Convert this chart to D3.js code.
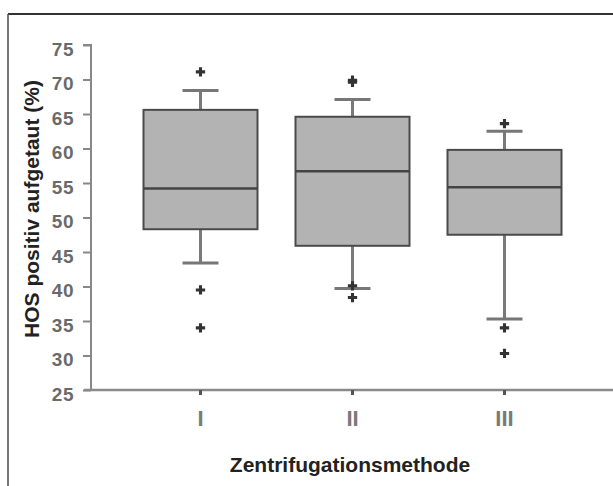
<!DOCTYPE html>
<html><head><meta charset="utf-8">
<script src="https://cdn.jsdelivr.net/npm/d3@7"></script>
<style>body{margin:0;background:#fff}svg{display:block}</style>
</head><body>
<script>
const categories = ["I", "II", "III"];
const q1 = [48.3, 45.9, 47.5];
const medians = [54.2, 56.7, 54.4];
const q3 = [65.6, 64.6, 59.8];
const whiskerLow = [43.4, 39.7, 35.3];
const whiskerHigh = [68.4, 67.1, 62.5];
const outliers = [[71.1, 39.5, 34.0], [69.9, 69.6, 40.1, 38.4], [63.6, 34.0, 30.3]];
const yTicks = [25, 30, 35, 40, 45, 50, 55, 60, 65, 70, 75];

const W = 613, H = 486;
const svg = d3.select("body").append("svg").attr("width", W).attr("height", H)
  .style("font-family", "'Liberation Sans', Arial, sans-serif");

// frame (top and left)
svg.append("line").attr("x1", 8).attr("x2", W).attr("y1", 14).attr("y2", 14).attr("stroke", "#333").attr("stroke-width", 2);
svg.append("line").attr("x1", 8).attr("x2", 8).attr("y1", 14).attr("y2", H).attr("stroke", "#555").attr("stroke-width", 1.6);

const y = d3.scaleLinear().domain([25, 75]).range([390, 45]);
const x = d3.scaleBand().domain(categories).range([124.5, 580.5]).paddingInner(0.25).paddingOuter(0.125);
const axisX = 91;

// y axis
const yAxis = svg.append("g").attr("transform", `translate(${axisX},0)`)
  .call(d3.axisLeft(y).tickValues(yTicks).tickSize(8).tickPadding(0).tickFormat(d3.format("d")));
yAxis.select(".domain").attr("stroke", "#888").attr("stroke-width", 2).attr("d", `M-8,${y(75)}H0V${y(25)}`);
yAxis.selectAll(".tick line").attr("stroke", "#888").attr("stroke-width", 2);
yAxis.selectAll(".tick text").attr("x", -17).attr("dy", "0.55em").attr("fill", "#6a6a6a")
  .attr("font-size", 19).attr("font-family", "'Liberation Sans', Arial, sans-serif").attr("font-weight", "bold").style("letter-spacing", "0.5px");

// x axis
const xAxis = svg.append("g").attr("transform", `translate(0,${y(25)})`)
  .call(d3.axisBottom(x).tickSize(5).tickPadding(12));
xAxis.select(".domain").attr("stroke", "#8a8a8a").attr("stroke-width", 2.5).attr("d", `M84,0H${W}`);
xAxis.selectAll(".tick line").attr("stroke", "#555").attr("stroke-width", 3);
xAxis.selectAll(".tick text").attr("fill", "#7a7a7a").attr("font-size", 22).attr("font-weight", "bold")
  .attr("font-family", "'Liberation Sans', Arial, sans-serif").attr("dy", "0.85em");

// boxes
const g = svg.append("g");
categories.forEach((c, i) => {
  const cx = x(c) + x.bandwidth() / 2;
  const bw = x.bandwidth();
  const capW = 36;
  g.append("line").attr("x1", cx).attr("x2", cx).attr("y1", y(q3[i])).attr("y2", y(whiskerHigh[i]))
    .attr("stroke", "#7a7a7a").attr("stroke-width", 3);
  g.append("line").attr("x1", cx).attr("x2", cx).attr("y1", y(q1[i])).attr("y2", y(whiskerLow[i]))
    .attr("stroke", "#7a7a7a").attr("stroke-width", 3);
  [whiskerHigh[i], whiskerLow[i]].forEach(v => {
    g.append("line").attr("x1", cx - capW / 2).attr("x2", cx + capW / 2).attr("y1", y(v)).attr("y2", y(v))
      .attr("stroke", "#777").attr("stroke-width", 3);
  });
  g.append("rect").attr("x", x(c)).attr("width", bw).attr("y", y(q3[i])).attr("height", y(q1[i]) - y(q3[i]))
    .attr("fill", "#b3b3b3").attr("stroke", "#4a4a4a").attr("stroke-width", 2);
  g.append("line").attr("x1", x(c)).attr("x2", x(c) + bw).attr("y1", y(medians[i])).attr("y2", y(medians[i]))
    .attr("stroke", "#444").attr("stroke-width", 2.5);
  outliers[i].forEach(v => {
    g.append("path").attr("d", d3.symbol(d3.symbolCross, 48)())
      .attr("transform", `translate(${cx},${y(v)})`).attr("fill", "#333");
  });
});

// titles
svg.append("text").attr("transform", "translate(39,209) rotate(-90)").attr("text-anchor", "middle")
  .attr("font-size", 21).attr("font-weight", "bold").attr("fill", "#222").text("HOS positiv aufgetaut (%)");
svg.append("text").attr("x", 350).attr("y", 472).attr("text-anchor", "middle")
  .attr("font-size", 21).attr("font-weight", "bold").attr("fill", "#222").text("Zentrifugationsmethode");
</script>
</body></html>
